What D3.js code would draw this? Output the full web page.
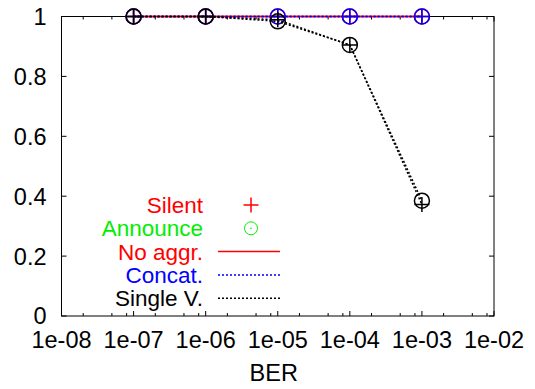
<!DOCTYPE html>
<html>
<head>
<meta charset="utf-8">
<script src="https://cdn.jsdelivr.net/npm/d3@7"></script>
<style>
  body { margin: 0; background: #fff; }
  text { font-family: "Liberation Sans", Arial, sans-serif; }
</style>
</head>
<body>
<div id="chart"></div>
<script>
// BER values on the x axis
const ber = [1e-7, 1e-6, 1e-5, 1e-4, 1e-3];
const xTickValues = [1e-8, 1e-7, 1e-6, 1e-5, 1e-4, 1e-3, 1e-2];
const yTickValues = [0, 0.2, 0.4, 0.6, 0.8, 1];

// delivery ratio per aggregation scheme, silent / announce
const noAggrSilent = [1, 1, 1, 1, 1];
const noAggrAnnounce = [1, 1, 1, 1, 1];
const concatSilent = [1, 1, 1, 1, 1];
const concatAnnounce = [1, 1, 1, 1, 1];
const singleSilent = [1, 1, 0.989, 0.905, 0.372];
const singleAnnounce = [1, 1, 0.984, 0.905, 0.385];

const series = [
  { name: 'No aggr.', color: '#ff0000', dash: null, silent: noAggrSilent, announce: noAggrAnnounce },
  { name: 'Concat.', color: '#0000ff', dash: '2,2', silent: concatSilent, announce: concatAnnounce },
  { name: 'Single V.', color: '#000000', dash: '2,2', silent: singleSilent, announce: singleAnnounce }
];

const W = 535, H = 389;
const margin = { top: 16.5, right: 41, bottom: 73, left: 61.5 };
const width = W - margin.left - margin.right;
const height = H - margin.top - margin.bottom;

const svg = d3.select('#chart').append('svg')
  .attr('width', W).attr('height', H);

const g = svg.append('g')
  .attr('transform', 'translate(' + margin.left + ',' + margin.top + ')');

const x = d3.scaleLog().domain([1e-8, 1e-2]).range([0, width]);
const y = d3.scaleLinear().domain([0, 1]).range([height, 0]);

// minor ticks on the log axis
const minor = [];
xTickValues.slice(0, -1).forEach(function(d) {
  [2, 5, 8].forEach(function(m) { minor.push(d * m); });
});

const fs = 23.5;
const legendFs = 22.5;

// border
g.append('rect')
  .attr('width', width).attr('height', height)
  .attr('fill', 'none').attr('stroke', '#000').attr('stroke-width', 1);

// x ticks bottom / top
xTickValues.forEach(function(d) {
  g.append('line').attr('x1', x(d)).attr('x2', x(d)).attr('y1', height).attr('y2', height - 5).attr('stroke', '#000');
  g.append('line').attr('x1', x(d)).attr('x2', x(d)).attr('y1', 0).attr('y2', 5).attr('stroke', '#000');
  g.append('text').attr('x', x(d)).attr('y', height + 32)
    .attr('text-anchor', 'middle').style('font-size', fs + 'px')
    .text(d3.format('.0e')(d).replace(/e-(\d)$/, 'e-0$1'));
});
minor.forEach(function(d) {
  g.append('line').attr('x1', x(d)).attr('x2', x(d)).attr('y1', height).attr('y2', height - 3).attr('stroke', '#000');
  g.append('line').attr('x1', x(d)).attr('x2', x(d)).attr('y1', 0).attr('y2', 3).attr('stroke', '#000');
});

// y ticks left / right
yTickValues.forEach(function(d) {
  g.append('line').attr('x1', 0).attr('x2', 5).attr('y1', y(d)).attr('y2', y(d)).attr('stroke', '#000');
  g.append('line').attr('x1', width).attr('x2', width - 5).attr('y1', y(d)).attr('y2', y(d)).attr('stroke', '#000');
  g.append('text').attr('x', -15).attr('y', y(d)).attr('dy', '0.36em')
    .attr('text-anchor', 'end').style('font-size', fs + 'px')
    .text(d3.format('')(d));
});

// axis title
g.append('text').attr('x', width / 2 - 4).attr('y', height + 65)
  .attr('text-anchor', 'middle').style('font-size', fs + 'px').text('BER');

const line = d3.line().x(function(d) { return x(d[0]); }).y(function(d) { return y(d[1]); });

function plus(sel, cx, cy, r, color) {
  sel.append('path')
    .attr('d', 'M' + (cx - r) + ',' + cy + 'H' + (cx + r) + 'M' + cx + ',' + (cy - r) + 'V' + (cy + r))
    .attr('stroke', color).attr('stroke-width', 1.5).attr('fill', 'none');
}
function circ(sel, cx, cy, r, color, dot) {
  sel.append('circle').attr('cx', cx).attr('cy', cy).attr('r', r)
    .attr('stroke', color).attr('stroke-width', dot ? 1 : 1.5).attr('fill', 'none');
  if (dot) sel.append('circle').attr('cx', cx).attr('cy', cy).attr('r', 0.8).attr('fill', color);
}

series.forEach(function(s) {
  [s.silent, s.announce].forEach(function(vals) {
    g.append('path')
      .datum(ber.map(function(b, i) { return [b, vals[i]]; }))
      .attr('d', line)
      .attr('fill', 'none').attr('stroke', s.color).attr('stroke-width', 1.5)
      .attr('stroke-dasharray', s.dash);
  });
  ber.forEach(function(b, i) {
    plus(g, x(b), y(s.silent[i]), 7.5, s.color);
    circ(g, x(b), y(s.announce[i]), 7.5, s.color, false);
  });
});

// legend
const legend = svg.append('g');
const legendRows = [
  { name: 'Silent', color: '#ff0000', kind: 'plus' },
  { name: 'Announce', color: '#00ee00', kind: 'circle' },
  { name: 'No aggr.', color: '#ff0000', kind: 'line', dash: null, stroke: '#ff0000' },
  { name: 'Concat.', color: '#0000ff', kind: 'line', dash: '2,2', stroke: '#0000ff' },
  { name: 'Single V.', color: '#000000', kind: 'line', dash: '2,2', stroke: '#000000' }
];
legendRows.forEach(function(r, i) {
  const ly = 205 + i * 23.3;
  legend.append('text').attr('x', 203).attr('y', ly).attr('dy', '0.36em')
    .attr('text-anchor', 'end').attr('fill', r.color).style('font-size', legendFs + 'px').text(r.name);
  if (r.kind === 'plus') plus(legend, 251, ly, 7.5, '#ff0000');
  else if (r.kind === 'circle') circ(legend, 251, ly, 6.5, '#00ee00', true);
  else legend.append('line').attr('x1', 218).attr('x2', 280).attr('y1', ly).attr('y2', ly)
    .attr('stroke', r.stroke).attr('stroke-width', 1.5).attr('stroke-dasharray', r.dash);
});
</script>
</body>
</html>
